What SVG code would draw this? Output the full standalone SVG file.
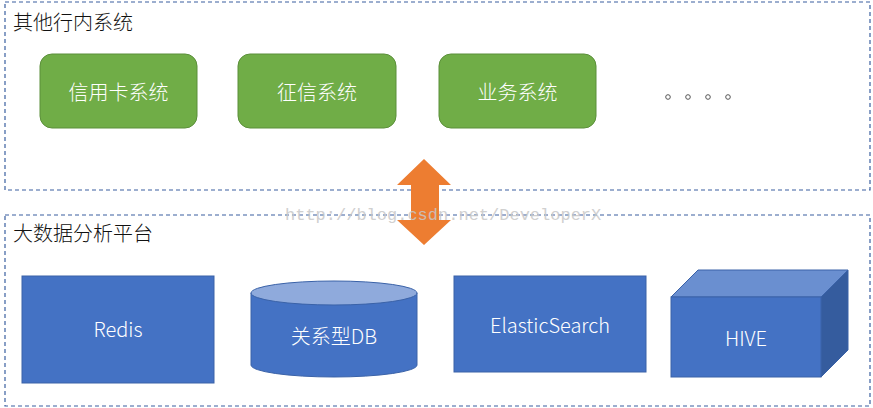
<svg xmlns="http://www.w3.org/2000/svg" width="873" height="408" viewBox="0 0 873 408">
<style>
.frame{fill:none;stroke:#3A5FA0;stroke-width:1.2;stroke-dasharray:4 3}
.title{font-family:"Noto Sans CJK SC","Noto Sans",sans-serif;font-size:20px;font-weight:300;fill:#111}
.green{fill:#70AD47;stroke:#5B8F3A;stroke-width:1}
.blue{fill:#4472C4;stroke:#3A62A8;stroke-width:1}
.lbl{font-family:"Noto Sans CJK SC","Noto Sans",sans-serif;font-size:20px;font-weight:300;fill:#fff;text-anchor:middle;dominant-baseline:central}
</style>
<rect width="873" height="408" fill="#fff"/>
<g id="other-systems">
<rect class="frame" x="5" y="2" width="865" height="188"/>
<text class="title" x="13" y="30">其他行内系统</text>
</g>
<g id="node-credit-card">
<rect class="green" x="40" y="54" width="157" height="74" rx="12"/>
<text class="lbl" x="118.5" y="91">信用卡系统</text>
</g>
<g id="node-credit">
<rect class="green" x="238" y="54" width="158" height="74" rx="12"/>
<text class="lbl" x="317" y="91">征信系统</text>
</g>
<g id="node-business">
<rect class="green" x="439" y="54" width="157" height="74" rx="12"/>
<text class="lbl" x="517.5" y="91">业务系统</text>
</g>
<g id="ellipsis" fill="none" stroke="#555" stroke-width="1">
<circle cx="668" cy="97" r="2.3"/>
<circle cx="688" cy="97" r="2.3"/>
<circle cx="708" cy="97" r="2.3"/>
<circle cx="728" cy="97" r="2.3"/>
</g>
<g id="bigdata-platform">
<rect class="frame" x="5" y="215" width="865" height="191"/>
<text class="title" x="13" y="241">大数据分析平台</text>
</g>
<g id="connectors">
<polygon fill="#ED7D31" points="424,159 451,185 439,185 439,220 451,220 424,245 397,220 411,220 411,185 397,185"/>
</g>
<g id="node-redis">
<rect class="blue" x="22" y="276" width="192" height="107"/>
<text class="lbl" x="118" y="328.5">Redis</text>
</g>
<g id="node-rdb">
<path class="blue" d="M251,293 L251,365 A83,12 0 0 0 417,365 L417,293"/>
<ellipse cx="334" cy="293" rx="83" ry="12" fill="#8FAADC" stroke="#3A62A8" stroke-width="1"/>
<text class="lbl" x="334" y="335">关系型DB</text>
</g>
<g id="node-es">
<rect class="blue" x="454" y="276" width="192" height="96"/>
<text class="lbl" x="550" y="324.5">ElasticSearch</text>
</g>
<g id="node-hive">
<polygon points="671,297 698,270 848,270 821,297" fill="#6A8FD0" stroke="#3A62A8" stroke-width="1"/>
<polygon points="821,297 848,270 848,350 821,377" fill="#355C9E" stroke="#3A62A8" stroke-width="1"/>
<rect class="blue" x="671" y="297" width="150" height="80"/>
<text class="lbl" x="746" y="337.5">HIVE</text>
</g>
<text x="285" y="220" font-family="'Liberation Mono',monospace" font-size="17" fill="#c8c8c8" opacity="0.85">http://blog.csdn.net/DeveloperX</text>
</svg>
